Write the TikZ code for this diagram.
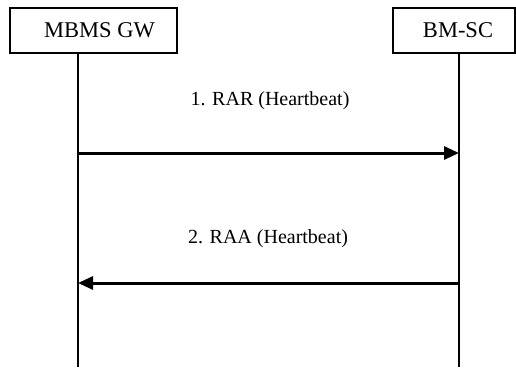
\documentclass[tikz,border=0pt]{standalone}
\usepackage{fontspec}
\setmainfont{Liberation Serif}
\usetikzlibrary{arrows.meta}
\begin{document}
\begin{tikzpicture}[x=1pt,y=-1pt,
    entity/.style={draw, line width=1.4pt, inner sep=0pt, minimum height=45pt,
      font=\fontsize{22.5}{26}\selectfont},
    lifeline/.style={line width=1.8pt},
    msg/.style={line width=3pt, -{Triangle[length=15pt,width=13pt]}},
    msglabel/.style={font=\fontsize{20}{24}\selectfont}]
    \useasboundingbox (0,0) rectangle (516,367);

    % Teilnehmer
    \node[entity, minimum width=167pt] (gw) at (93.5,30.5) {\hspace{12pt}MBMS GW};
    \node[entity, minimum width=122pt] (bmsc) at (454,30.5) {\hspace{8pt}BM-SC};

    % Lebenslinien
    \coordinate (gwtop) at (78,53);
    \coordinate (gwbot) at (78,367);
    \coordinate (bmtop) at (459,53);
    \coordinate (bmbot) at (459,367);
    \draw[lifeline] (gwtop) -- (gwbot);
    \draw[lifeline] (bmtop) -- (bmbot);

    % Nachrichten
    \coordinate (rarfrom) at (78,153);
    \coordinate (rarto) at (459,153);
    \coordinate (raafrom) at (459,283);
    \coordinate (raato) at (78,283);
    \draw[msg] (rarfrom) -- (rarto);
    \draw[msg] (raafrom) -- (raato);
    \node[msglabel] (rar) at (270,101) {1. RAR (Heartbeat)};
    \node[msglabel] (raa) at (268,239) {2. RAA (Heartbeat)};
\end{tikzpicture}
\end{document}
